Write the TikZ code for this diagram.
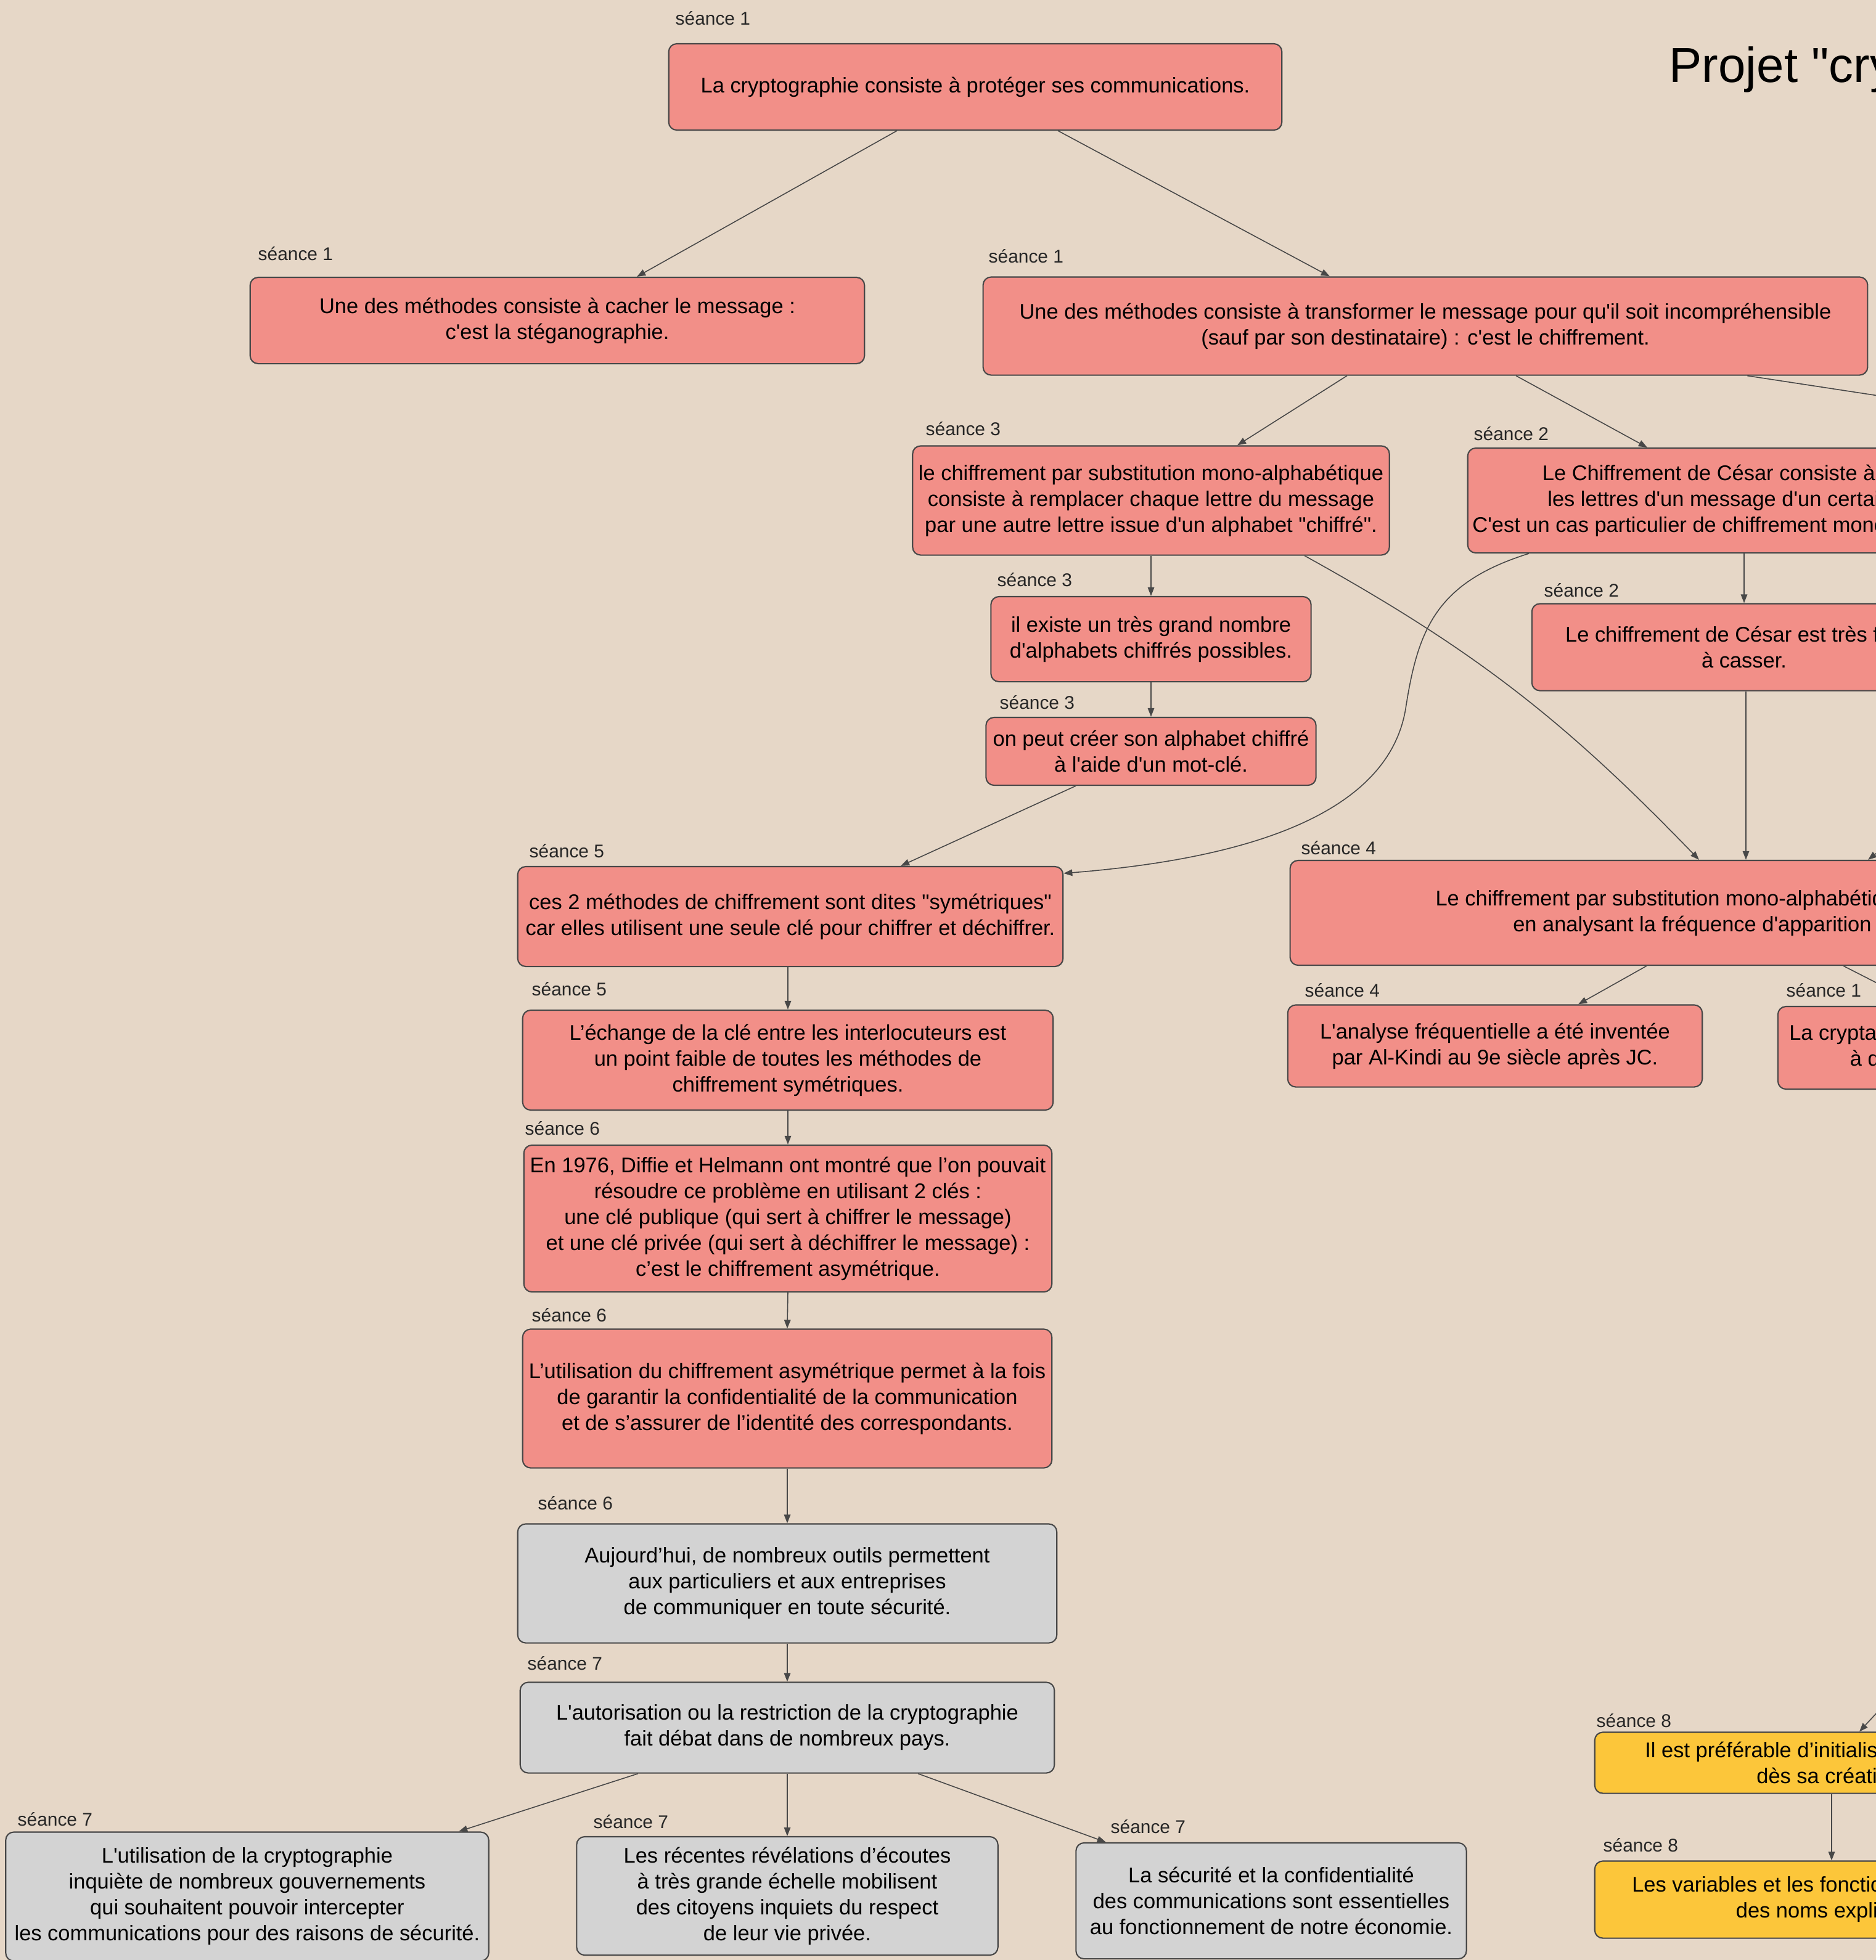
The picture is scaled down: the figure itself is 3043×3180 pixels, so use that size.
\documentclass[tikz,border=0pt]{standalone}
\usepackage{fontspec}
\setmainfont{Liberation Sans}[Ligatures=TeXOff]
\usetikzlibrary{arrows.meta}

\definecolor{fondbeige}{RGB}{230,215,199}
\definecolor{saumon}{RGB}{242,143,136}
\definecolor{grisclair}{RGB}{211,211,211}
\definecolor{jaune}{RGB}{252,198,58}
\definecolor{trait}{RGB}{72,72,72}

\tikzset{
  notion/.style={draw=trait, line width=0.6pt, rounded corners=0.13cm, align=center,
    inner sep=1pt, font=\fontsize{9.8}{11.95}\selectfont},
  rosebox/.style={notion, fill=saumon},
  greybox/.style={notion, fill=grisclair},
  yellowbox/.style={notion, fill=jaune},
  lien/.style={draw=trait, line width=0.45pt, -{Triangle[length=4pt,width=3pt]}},
  seance/.style={anchor=west, inner sep=0pt, text=black!85, font=\fontsize{8.5}{10}\selectfont}
}

\begin{document}
\begin{tikzpicture}[x=0.01cm, y=-0.01cm]
  % Page frame and background
  \useasboundingbox (0,0) rectangle (3043,3180);
  \clip (0,0) rectangle (3043,3180);
  \fill[fondbeige] (0,0) rectangle (3043,3180);

  % Title
  \node[anchor=base west, inner sep=0pt, font=\fontsize{22.7}{27}\selectfont] (titre) at (2707,133) {Projet "cryptographie"};

  % Session labels
  \foreach \nom/\x/\y/\n in {racine/1095/30/1, stegano/418/412/1, chiffre/1603/416/1,
      mono/1501/696/3, existe/1617/941/3, motcle/1621/1140/3,
      cesar/2390/704/2, facile/2504/958/2, frequence/2110/1376/4,
      alkindi/2116/1607/4, cryptanalyse/2897/1607/1,
      symetrique/858/1381/5, echange/862/1605/5, diffie/851/1831/6,
      asymetrique/862/2134/6, outils/872/2439/6, autorisation/855/2699/7,
      gouvernements/28/2952/7, ecoutes/962/2956/7, economie/1801/2964/7,
      initialiser/2589/2792/8, noms/2600/2994/8}
    \node[seance] (lbl-\nom) at (\x,\y) {séance \n};

  % Session 1 : cryptographie, stéganographie, chiffrement
  \node[rosebox, minimum width=9.94cm, minimum height=1.40cm] (racine) at (1582,141)
    {La cryptographie consiste à protéger ses communications.};
  \node[rosebox, minimum width=9.96cm, minimum height=1.40cm] (stegano) at (904,520)
    {Une des méthodes consiste à cacher le message :\\c'est la stéganographie.};
  \node[rosebox, minimum width=14.34cm, minimum height=1.59cm] (chiffre) at (2312,529)
    {Une des méthodes consiste à transformer le message pour qu'il soit incompréhensible\\(sauf par son destinataire) : c'est le chiffrement.};

  % Sessions 2 and 3 : substitution
  \node[rosebox, minimum width=7.73cm, minimum height=1.77cm] (mono) at (1867,812)
    {le chiffrement par substitution mono-alphabétique\\consiste à remplacer chaque lettre du message\\par une autre lettre issue d'un alphabet "chiffré".};
  \node[rosebox, minimum width=5.19cm, minimum height=1.38cm] (existe) at (1867,1037)
    {il existe un très grand nombre\\d'alphabets chiffrés possibles.};
  \node[rosebox, minimum width=5.35cm, minimum height=1.10cm] (motcle) at (1867,1219)
    {on peut créer son alphabet chiffré\\à l'aide d'un mot-clé.};
  \node[rosebox, minimum width=9.04cm, minimum height=1.70cm] (cesar) at (2833,812)
    {Le Chiffrement de César consiste à décaler\\les lettres d'un message d'un certain rang.\\C'est un cas particulier de chiffrement mono-alphabétique.};
  \node[rosebox, minimum width=6.88cm, minimum height=1.41cm] (facile) at (2829,1050)
    {Le chiffrement de César est très facile\\à casser.};

  % Session 4 : analyse fréquentielle
  \node[rosebox, minimum width=14.82cm, minimum height=1.70cm] (frequence) at (2834,1481)
    {Le chiffrement par substitution mono-alphabétique peut être cassé\\en analysant la fréquence d'apparition des lettres.};
  \node[rosebox, minimum width=6.72cm, minimum height=1.33cm] (alkindi) at (2425,1697)
    {L'analyse fréquentielle a été inventée\\par Al-Kindi au 9e siècle après JC.};
  \node[rosebox, minimum width=4.14cm, minimum height=1.34cm] (cryptanalyse) at (3091,1700)
    {La cryptanalyse consiste\\à décrypter.};

  % Sessions 5 and 6 : symétrique / asymétrique
  \node[rosebox, minimum width=8.84cm, minimum height=1.62cm] (symetrique) at (1282,1487)
    {ces 2 méthodes de chiffrement sont dites "symétriques"\\car elles utilisent une seule clé pour chiffrer et déchiffrer.};
  \node[rosebox, minimum width=8.60cm, minimum height=1.62cm] (echange) at (1278,1720)
    {L’échange de la clé entre les interlocuteurs est\\un point faible de toutes les méthodes de\\chiffrement symétriques.};
  \node[rosebox, minimum width=8.56cm, minimum height=2.38cm] (diffie) at (1278,1977)
    {En 1976, Diffie et Helmann ont montré que l’on pouvait\\résoudre ce problème en utilisant 2 clés :\\une clé publique (qui sert à chiffrer le message)\\et une clé privée (qui sert à déchiffrer le message) :\\c’est le chiffrement asymétrique.};
  \node[rosebox, minimum width=8.58cm, minimum height=2.25cm] (asymetrique) at (1277,2269)
    {L’utilisation du chiffrement asymétrique permet à la fois\\de garantir la confidentialité de la communication\\et de s’assurer de l’identité des correspondants.};

  % Sessions 6 and 7 : société
  \node[greybox, minimum width=8.74cm, minimum height=1.93cm] (outils) at (1277,2569)
    {Aujourd’hui, de nombreux outils permettent\\aux particuliers et aux entreprises\\de communiquer en toute sécurité.};
  \node[greybox, minimum width=8.66cm, minimum height=1.47cm] (autorisation) at (1277,2803)
    {L'autorisation ou la restriction de la cryptographie\\fait débat dans de nombreux pays.};
  \node[greybox, minimum width=7.83cm, minimum height=2.09cm] (gouvernements) at (401,3077)
    {L'utilisation de la cryptographie\\inquiète de nombreux gouvernements\\qui souhaitent pouvoir intercepter\\les communications pour des raisons de sécurité.};
  \node[greybox, minimum width=6.83cm, minimum height=1.92cm] (ecoutes) at (1277,3076)
    {Les récentes révélations d’écoutes\\à très grande échelle mobilisent\\des citoyens inquiets du respect\\de leur vie privée.};
  \node[greybox, minimum width=6.33cm, minimum height=1.88cm] (economie) at (2062,3084)
    {La sécurité et la confidentialité\\des communications sont essentielles\\au fonctionnement de notre économie.};

  % Session 8 : programmation
  \node[yellowbox, minimum width=7.68cm, minimum height=0.99cm] (initialiser) at (2971,2860)
    {Il est préférable d’initialiser une variable\\dès sa création.};
  \node[yellowbox, minimum width=7.68cm, minimum height=1.25cm] (noms) at (2971,3082)
    {Les variables et les fonctions doivent avoir\\des noms explicites.};

  % Ends of links coming from outside the frame
  \coordinate (horsChiffre) at (3250,673);
  \coordinate (horsFrequence) at (3090,1348);
  \coordinate (horsInit) at (3120,2697);

  % Links
  \draw[lien] ([xshift=-1.27cm]racine.south) -- ([xshift=1.29cm]stegano.north);
  \draw[lien] ([xshift=1.34cm]racine.south) -- ([xshift=-1.55cm]chiffre.north);
  \draw[lien] ([xshift=-1.27cm]chiffre.south) -- ([xshift=1.40cm]mono.north);
  \draw[lien] ([xshift=1.47cm]chiffre.south) -- ([xshift=-1.61cm]cesar.north);
  \draw[lien] ([xshift=5.22cm]chiffre.south) -- (horsChiffre);
  \draw[lien] (mono.south) -- (existe.north);
  \draw[lien] (existe.south) -- (motcle.north);
  \draw[lien] ([xshift=-1.22cm]motcle.south) -- ([xshift=1.79cm]symetrique.north);
  \draw[lien] ([xshift=2.49cm]mono.south) to[out=-29, in=134] ([xshift=-0.78cm]frequence.north);
  \draw[lien] ([xshift=-3.53cm]cesar.south) .. controls (2330,945) and (2300,1020) .. (2280,1150)
    .. controls (2250,1330) and (2000,1395) .. ([yshift=-0.12cm]symetrique.north east);
  \draw[lien] (facile.north |- cesar.south) -- (facile.north);
  \draw[lien] ([xshift=0.03cm]facile.south) -- ([xshift=0.03cm]facile.south |- frequence.north);
  \draw[lien] (horsFrequence) -- ([xshift=1.96cm]frequence.north);
  \draw[lien] ([xshift=-1.63cm]frequence.south) -- ([xshift=1.35cm]alkindi.north);
  \draw[lien] ([xshift=1.56cm]frequence.south) -- ([xshift=0.26cm]cryptanalyse.north);
  \draw[lien] (echange.north |- symetrique.south) -- (echange.north);
  \draw[lien] (echange.south) -- (diffie.north);
  \draw[lien] (diffie.south) -- (asymetrique.north);
  \draw[lien] (asymetrique.south) -- (outils.north);
  \draw[lien] (outils.south) -- (autorisation.north);
  \draw[lien] ([xshift=-2.42cm]autorisation.south) -- ([xshift=3.43cm]gouvernements.north);
  \draw[lien] (autorisation.south) -- (ecoutes.north);
  \draw[lien] ([xshift=2.12cm]autorisation.south) -- ([xshift=-2.68cm]economie.north);
  \draw[lien] (horsInit) -- ([xshift=0.45cm]initialiser.north);
  \draw[lien] (initialiser.south) -- (noms.north);
\end{tikzpicture}
\end{document}
